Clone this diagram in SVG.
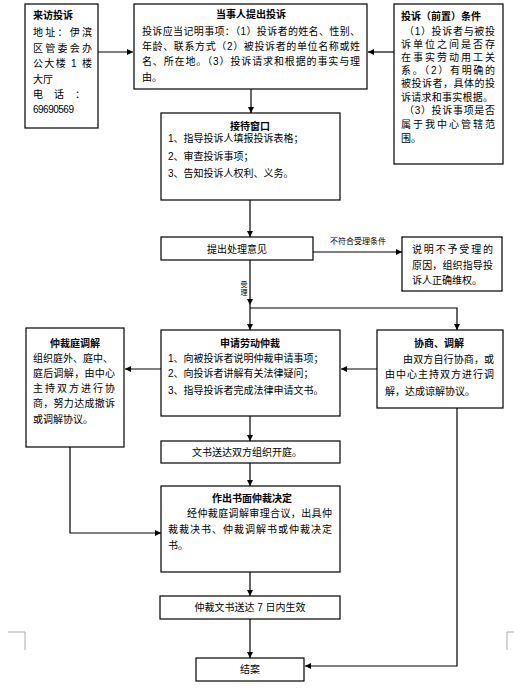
<svg xmlns="http://www.w3.org/2000/svg" width="514" height="692" viewBox="0 0 514 692">
<defs>
<marker id="arr" viewBox="0 0 6 6" refX="6" refY="3" markerWidth="6" markerHeight="6" markerUnits="userSpaceOnUse" orient="auto">
<path d="M0,0 L6,3 L0,6 z" fill="#000"/>
</marker>
<style>
rect.box{fill:#fff;stroke:#000;stroke-width:1.2}
text{font-family:"Liberation Sans","Noto Sans CJK SC",sans-serif;font-size:10px;fill:#000}
text.t{font-weight:bold;text-anchor:middle}
text.c{text-anchor:middle}
text.s{font-size:8px}
text.v{font-size:7px;text-anchor:middle}
.ln{fill:none;stroke:#000;stroke-width:1.2}
.ar{marker-end:url(#arr)}
.crop{fill:none;stroke:#aaa;stroke-width:1}
</style>
</defs>
<rect width="514" height="692" fill="#fff"/>
<g id="connectors">
<path class="ln ar" d="M98,52 H133"/>
<path class="ln ar" d="M394,52 H368"/>
<path class="ln ar" d="M251,89 V113"/>
<path class="ln ar" d="M250,200 V237"/>
<path class="ln ar" d="M313,252 H402"/>
<path class="ln ar" d="M250,260 V305"/>
<path class="ln ar" d="M250,305 V330"/>
<path class="ln ar" d="M250,308 H457 V330"/>
<path class="ln ar" d="M161,369 H125"/>
<path class="ln ar" d="M377,369 H341"/>
<path class="ln ar" d="M70,447 V533 H161"/>
<path class="ln ar" d="M250,416 V441"/>
<path class="ln ar" d="M250,463 V486"/>
<path class="ln ar" d="M250,572 V596"/>
<path class="ln ar" d="M250,619 V658"/>
<path class="ln ar" d="M457,408 V666 H305"/>
<text class="s" x="330" y="244">不符合受理条件</text>
<text class="v" x="244" y="287">受</text>
<text class="v" x="244" y="295">理</text>
</g>
<g id="n1">
<rect class="box" x="25" y="4" width="73" height="124"/>
<text x="33" y="19" font-weight="bold">来访投诉</text>
<text x="33" y="36" textLength="59" lengthAdjust="spacing">地址：伊滨</text>
<text x="33" y="52" textLength="59" lengthAdjust="spacing">区管委会办</text>
<text x="33" y="67" textLength="59" lengthAdjust="spacing">公大楼 1 楼</text>
<text x="33" y="83">大厅</text>
<text x="33" y="98" textLength="52" lengthAdjust="spacing">电 话 ：</text>
<text x="33" y="113" font-size="9" letter-spacing="-0.5">69690569</text>
</g>
<g id="n2">
<rect class="box" x="134" y="4" width="233" height="85"/>
<text class="t" x="251" y="18">当事人提出投诉</text>
<text x="142" y="35" textLength="218" lengthAdjust="spacing">投诉应当记明事项：（1）投诉者的姓名、性别、</text>
<text x="142" y="50" textLength="218" lengthAdjust="spacing">年龄、联系方式（2）被投诉者的单位名称或姓</text>
<text x="142" y="65" textLength="218" lengthAdjust="spacing">名、所在地。（3）投诉请求和根据的事实与理</text>
<text x="142" y="81">由。</text>
</g>
<g id="n3">
<rect class="box" x="394" y="4" width="109" height="160"/>
<text x="401" y="20" font-weight="bold">投诉（前置）条件</text>
<text x="404" y="35" textLength="91" lengthAdjust="spacing">（1）投诉者与被投</text>
<text x="401" y="48" textLength="94" lengthAdjust="spacing">诉单位之间是否存</text>
<text x="401" y="61" textLength="94" lengthAdjust="spacing">在事实劳动用工关</text>
<text x="401" y="74" textLength="94" lengthAdjust="spacing">系。（2）有明确的</text>
<text x="401" y="87" textLength="94" lengthAdjust="spacing">被投诉者，具体的投</text>
<text x="401" y="101" textLength="92" lengthAdjust="spacing">诉请求和事实根据。</text>
<text x="404" y="114" textLength="91" lengthAdjust="spacing">（3）投诉事项是否</text>
<text x="401" y="128" textLength="94" lengthAdjust="spacing">属于我中心管辖范</text>
<text x="401" y="142">围。</text>
</g>
<g id="n4">
<rect class="box" x="161" y="113" width="179" height="87"/>
<text class="t" x="250" y="130">接待窗口</text>
<text x="168" y="142">1、指导投诉人填报投诉表格；</text>
<text x="168" y="160">2、审查投诉事项；</text>
<text x="168" y="177">3、告知投诉人权利、义务。</text>
</g>
<g id="n5">
<rect class="box" x="161" y="237" width="152" height="23"/>
<text class="c" x="237" y="252.5">提出处理意见</text>
</g>
<g id="n6">
<rect class="box" x="402" y="237" width="100" height="54"/>
<text x="412" y="253" textLength="81" lengthAdjust="spacing">说明不予受理的</text>
<text x="412" y="269" textLength="81" lengthAdjust="spacing">原因，组织指导投</text>
<text x="412" y="284">诉人正确维权。</text>
</g>
<g id="n7">
<rect class="box" x="161" y="330" width="179" height="86"/>
<text class="t" x="250" y="347">申请劳动仲裁</text>
<text x="168" y="362">1、向被投诉者说明仲裁申请事项；</text>
<text x="168" y="377">2、向投诉者讲解有关法律疑问；</text>
<text x="168" y="394">3、指导投诉者完成法律申请文书。</text>
</g>
<g id="n8">
<rect class="box" x="377" y="330" width="126" height="78"/>
<text class="t" x="439" y="347">协商、调解</text>
<text x="403" y="363" textLength="91" lengthAdjust="spacing">由双方自行协商，或</text>
<text x="385" y="378" textLength="109" lengthAdjust="spacing">由中心主持双方进行调</text>
<text x="385" y="395">解，达成谅解协议。</text>
</g>
<g id="n9">
<rect class="box" x="26" y="328" width="98" height="119"/>
<text class="t" x="75" y="347">仲裁庭调解</text>
<text x="33" y="362" textLength="80" lengthAdjust="spacing">组织庭外、庭中、</text>
<text x="33" y="377" textLength="82" lengthAdjust="spacing">庭后调解，由中心</text>
<text x="33" y="392" textLength="82" lengthAdjust="spacing">主持双方进行协</text>
<text x="33" y="407" textLength="82" lengthAdjust="spacing">商，努力达成撤诉</text>
<text x="33" y="423">或调解协议。</text>
</g>
<g id="n10">
<rect class="box" x="161" y="441" width="179" height="22"/>
<text class="c" x="247" y="455.5">文书送达双方组织开庭。</text>
</g>
<g id="n11">
<rect class="box" x="161" y="486" width="179" height="86"/>
<text class="t" x="252" y="502">作出书面仲裁决定</text>
<text x="187" y="517" textLength="145" lengthAdjust="spacing">经仲裁庭调解审理合议，出具仲</text>
<text x="168" y="533" textLength="164" lengthAdjust="spacing">裁裁决书、仲裁调解书或仲裁决定</text>
<text x="168" y="549">书。</text>
</g>
<g id="n12">
<rect class="box" x="160" y="596" width="180" height="23"/>
<text class="c" x="250" y="611">仲裁文书送达 7 日内生效</text>
</g>
<g id="n13">
<rect class="box" x="196" y="658" width="108" height="23"/>
<text class="c" x="250" y="673">结案</text>
</g>
<path class="crop" d="M8,632 H25 V650"/>
<path class="crop" d="M514,632 H507 V650"/>
</svg>
